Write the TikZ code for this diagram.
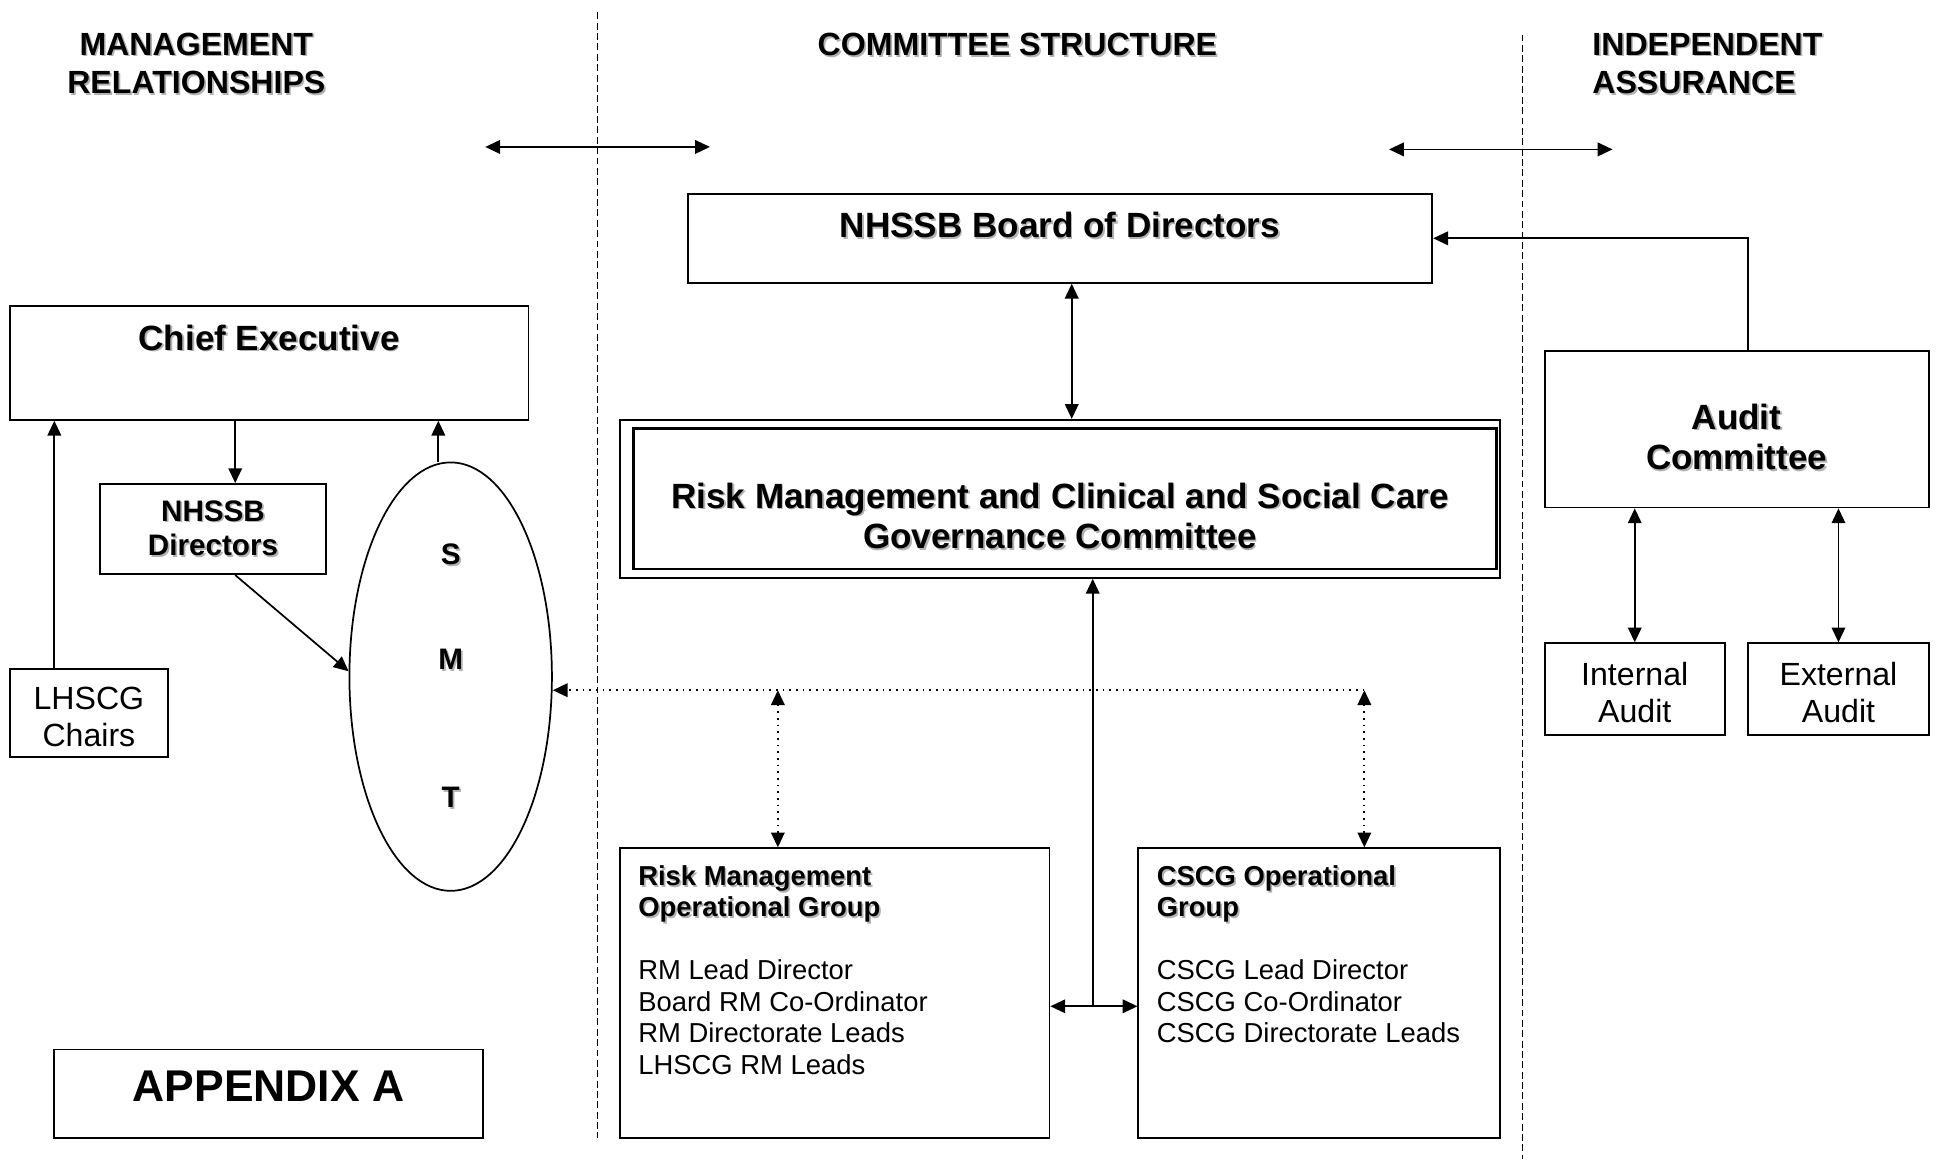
\documentclass[tikz,border=0pt]{standalone}
\usepackage{fontspec}
\setmainfont{Liberation Sans}
\usepackage{tikz}
\usetikzlibrary{arrows.meta,calc,shapes.geometric}
% grey drop shadow behind bold captions
\newcommand{\shd}[1]{\makebox[0pt][l]{\hspace{0.7pt}\raisebox{-0.7pt}{\textcolor{black!30}{#1}}}#1}
\tikzset{
  onearr/.style={-{Triangle[length=6pt,width=5.5pt]}},
  twoarr/.style={{Triangle[length=6pt,width=5.5pt]}-{Triangle[length=6pt,width=5.5pt]}},
  divider/.style={line width=0.7pt, dash pattern=on 2.8pt off 1.4pt},
}

\begin{document}
\begin{tikzpicture}[x=0.5pt,y=-0.5pt,
box/.style={draw, line width=0.75pt, inner sep=0pt},
hd/.style={font=\fontsize{13}{15.5}\selectfont\bfseries, align=center},
bigtxt/.style={font=\fontsize{14.2}{16.5}\selectfont\bfseries, align=center, inner sep=0pt},
midtxt/.style={font=\fontsize{12}{14}\selectfont\bfseries, align=center},
plaintxt/.style={font=\fontsize{13}{15}\selectfont, align=center, inner sep=0pt},
grp/.style={font=\fontsize{11.1}{12.75}\selectfont, align=left, inner sep=0pt},
line width=0.7pt]

\useasboundingbox (0,0) rectangle (1568,939);

% column headings
\node[hd] (hmgmt) at (159,52) {\shd{MANAGEMENT}\\\shd{RELATIONSHIPS}};
\node[hd] (hcom) at (824,37) {\shd{COMMITTEE STRUCTURE}};
\node[hd, align=left, anchor=west, inner sep=0pt] (hind) at (1289,52) {\shd{INDEPENDENT}\\\shd{ASSURANCE}};

% dividers between the columns
\draw[divider] (484,10) -- (484,922);
\draw[divider] (1233,28) -- (1233,939);

\coordinate (la) at (393,119);
\coordinate (lb) at (575,119);
\coordinate (ra) at (1125,121);
\coordinate (rb) at (1306,121);
\draw[twoarr] (la) -- (lb);
\draw[twoarr] (ra) -- (rb);

% management side
\node[box, minimum width=210pt, minimum height=46pt,
  label={[bigtxt, anchor=north, yshift=-7.5pt]north:\shd{Chief Executive}}] (ce) at (218,294) {};
\node[box, minimum width=91.5pt, minimum height=36.5pt, midtxt] (dirs) at (172.5,428.5) {\shd{NHSSB}\\\shd{Directors}};
\node[box, minimum width=64pt, minimum height=35.5pt,
  label={[plaintxt, anchor=north, yshift=-7.3pt]north:{LHSCG\\Chairs}}] (lhscg) at (72,577.5) {};
\node[draw, ellipse, minimum width=82pt, minimum height=173.5pt, inner sep=0pt, midtxt] (smt) at (365,548)
  {\shd{S}\\[28.5pt]\shd{M}\\[42pt]\shd{T}};
\node[box, minimum width=173.5pt, minimum height=36pt, text depth=6pt,
  font=\fontsize{18}{20}\selectfont\bfseries] (app) at (217.5,886) {APPENDIX A};

\draw[onearr] ([xshift=9pt]dirs.north |- ce.south) -- ([xshift=9pt]dirs.north);
\draw[onearr] ([xshift=-14pt]lhscg.north) -- ([xshift=-14pt]lhscg.north |- ce.south);
\draw[onearr] ([xshift=-5pt]smt.north) -- ([xshift=-5pt]smt.north |- ce.south);
\draw[onearr] ([xshift=9pt]dirs.south) -- (smt.177);

% committees
\node[box, minimum width=301.5pt, minimum height=36pt,
  label={[bigtxt, anchor=north, yshift=-7.5pt]north:\shd{NHSSB Board of Directors}}] (board) at (858.5,193) {};
\node[box, minimum width=356.5pt, minimum height=64pt,
  label={[bigtxt, anchor=north, yshift=-25.5pt]north:{\shd{Risk Management and Clinical and Social Care}\\\shd{Governance Committee}}}] (rmc) at (858.5,404) {};
\draw[line width=1.1pt] ($(rmc.north west)+(12,8)$) rectangle ($(rmc.south east)+(-4,-8)$);

\node[box, minimum width=174pt, minimum height=117.5pt,
  label={[grp, anchor=north west, xshift=7.5pt, yshift=-7pt]north west:{\textbf{\shd{Risk Management}}\\\textbf{\shd{Operational Group}}\\[12.75pt]RM Lead Director\\Board RM Co-Ordinator\\RM Directorate Leads\\LHSCG RM Leads}}] (rmg) at (676,804.5) {};
\node[box, minimum width=146.5pt, minimum height=117.5pt,
  label={[grp, anchor=north west, xshift=7.5pt, yshift=-7pt]north west:{\textbf{\shd{CSCG Operational}}\\\textbf{\shd{Group}}\\[12.75pt]CSCG Lead Director\\CSCG Co-Ordinator\\CSCG Directorate Leads}}] (cscg) at (1068.5,804.5) {};

\draw[twoarr] ([xshift=4.75pt]board.south) -- ([xshift=4.75pt]board.south |- rmc.north);

\coordinate (junc) at (885,815);
\draw[twoarr] (junc -| rmg.east) -- (junc -| cscg.west);
\draw[onearr] (junc) -- (junc |- rmc.south);

% dotted links to SMT
\coordinate (dotr) at (1105,559);
\draw[onearr, dotted] (dotr) -- (dotr -| smt.east);
\draw[twoarr, dotted] ([xshift=-23pt]rmg.north |- dotr) -- ([xshift=-23pt]rmg.north);
\draw[twoarr, dotted] (dotr) -- (dotr |- cscg.north);

% independent assurance
\node[box, minimum width=155.5pt, minimum height=63.5pt,
  label={[bigtxt, anchor=north, yshift=-21.5pt]north:{\shd{Audit}\\\shd{Committee}}}] (audit) at (1406.5,347.5) {};
\node[box, minimum width=73pt, minimum height=37pt,
  label={[plaintxt, anchor=north, yshift=-7.5pt]north:{Internal\\Audit}}] (intaud) at (1324,558) {};
\node[box, minimum width=73pt, minimum height=37pt,
  label={[plaintxt, anchor=north, yshift=-7.5pt]north:{External\\Audit}}] (extaud) at (1489,558) {};

\draw[onearr] ([xshift=4.75pt]audit.north) |- (board.east);
\draw[twoarr] (intaud.north |- audit.south) -- (intaud.north);
\draw[twoarr] (extaud.north |- audit.south) -- (extaud.north);

\end{tikzpicture}
\end{document}
